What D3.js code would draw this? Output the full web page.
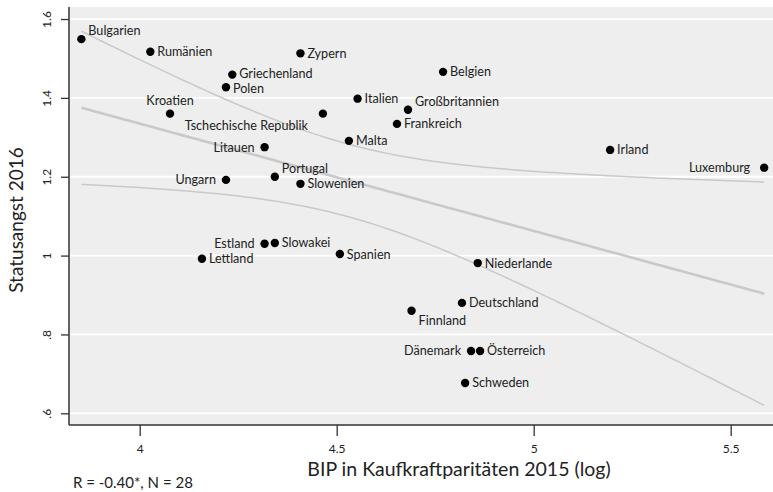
<!DOCTYPE html>
<html>
<head>
<meta charset="utf-8">
<script src="https://cdn.jsdelivr.net/npm/d3@7"></script>
<style>
  body { margin: 0; background: #fff; }
  text { font-family: Lato, "Open Sans", sans-serif; fill: #222; }
</style>
</head>
<body>
<div id="wrapper"></div>
<script>
// data: log GDP (PPP 2015) vs status anxiety 2016
const countries = ["Bulgarien", "Rumänien", "Zypern", "Griechenland", "Polen", "Kroatien",
  "Tschechische Republik", "Italien", "Großbritannien", "Frankreich", "Malta", "Belgien",
  "Litauen", "Portugal", "Ungarn", "Slowenien", "Irland", "Luxemburg", "Estland", "Slowakei",
  "Lettland", "Spanien", "Niederlande", "Deutschland", "Finnland", "Dänemark", "Österreich", "Schweden"]
const gdpLog = [3.852, 4.027, 4.408, 4.235, 4.219, 4.077,
  4.465, 4.553, 4.681, 4.653, 4.531, 4.770,
  4.317, 4.343, 4.219, 4.408, 5.194, 5.585, 4.317, 4.343,
  4.158, 4.508, 4.858, 4.818, 4.690, 4.841, 4.864, 4.826]
const statusAnxiety = [1.549, 1.517, 1.513, 1.459, 1.427, 1.360,
  1.360, 1.398, 1.370, 1.334, 1.291, 1.466,
  1.275, 1.200, 1.192, 1.182, 1.268, 1.223, 1.030, 1.032,
  0.992, 1.004, 0.981, 0.880, 0.860, 0.758, 0.758, 0.677]
const xTicks = [4, 4.5, 5, 5.5]
const yTicks = [0.6, 0.8, 1, 1.2, 1.4, 1.6]
const note = "R = -0.40*, N = 28"

// label placement (default: right of the point)
const labelPos = {
  "Kroatien": "t", "Tschechische Republik": "bl", "Großbritannien": "ur",
  "Portugal": "ur", "Bulgarien": "ur", "Finnland": "br",
  "Litauen": "l", "Ungarn": "l", "Luxemburg": "l", "Estland": "l", "Dänemark": "l"
}
// small nudges so close labels do not collide
const nudge = { "Luxemburg": [-4, 0], "Griechenland": [0, -1.5], "Polen": [0, 0.8] }

const dataset = countries.map((name, i) => ({ name, x: gdpLog[i], y: statusAnxiety[i] }))
const xAccessor = d => d.x
const yAccessor = d => d.y

// dimensions
const dimensions = {
  width: 773,
  height: 492,
  margin: { top: 7, right: 0, bottom: 67, left: 69 }
}
dimensions.boundedWidth = dimensions.width - dimensions.margin.left - dimensions.margin.right
dimensions.boundedHeight = dimensions.height - dimensions.margin.top - dimensions.margin.bottom

const wrapper = d3.select("#wrapper")
  .append("svg")
    .attr("width", dimensions.width)
    .attr("height", dimensions.height)

const bounds = wrapper.append("g")
  .attr("transform", `translate(${dimensions.margin.left},${dimensions.margin.top})`)

// scales
const xScale = d3.scaleLinear()
  .domain([3.8206, 5.6074])
  .range([0, dimensions.boundedWidth])
const yScale = d3.scaleLinear()
  .domain([0.5703, 1.6305])
  .range([dimensions.boundedHeight, 0])

// background + grid
bounds.append("rect")
  .attr("width", dimensions.boundedWidth)
  .attr("height", dimensions.boundedHeight)
  .attr("fill", "#eeeeee")

bounds.append("g")
  .selectAll("line")
  .data(yTicks)
  .enter().append("line")
    .attr("x1", 0)
    .attr("x2", dimensions.boundedWidth)
    .attr("y1", d => yScale(d))
    .attr("y2", d => yScale(d))
    .attr("stroke", "#fff")
    .attr("stroke-width", 1.8)

// linear fit with 95% CI
const n = dataset.length
const mx = d3.mean(dataset, xAccessor)
const my = d3.mean(dataset, yAccessor)
const sxx = d3.sum(dataset, d => (d.x - mx) ** 2)
const sxy = d3.sum(dataset, d => (d.x - mx) * (d.y - my))
const slope = sxy / sxx
const intercept = my - slope * mx
const s = Math.sqrt(d3.sum(dataset, d => (d.y - intercept - slope * d.x) ** 2) / (n - 2))
const tCrit = 2.0555
const [xMin, xMax] = d3.extent(dataset, xAccessor)
const fitPoints = d3.range(0, 101).map(i => {
  const x = xMin + (xMax - xMin) * i / 100
  const yhat = intercept + slope * x
  const se = s * Math.sqrt(1 / n + (x - mx) ** 2 / sxx)
  return { x, yhat, lo: yhat - tCrit * se, hi: yhat + tCrit * se }
})

const lineGen = key => d3.line()
  .x(d => xScale(d.x))
  .y(d => yScale(d[key]))

bounds.append("path")
  .datum(fitPoints)
  .attr("d", lineGen("hi"))
  .attr("fill", "none").attr("stroke", "#c9c9c9").attr("stroke-width", 1.5)
bounds.append("path")
  .datum(fitPoints)
  .attr("d", lineGen("lo"))
  .attr("fill", "none").attr("stroke", "#c9c9c9").attr("stroke-width", 1.5)
bounds.append("path")
  .datum(fitPoints)
  .attr("d", lineGen("yhat"))
  .attr("fill", "none").attr("stroke", "#c9c9c9").attr("stroke-width", 2.6)

// points
bounds.append("g")
  .selectAll("circle")
  .data(dataset)
  .enter().append("circle")
    .attr("cx", d => xScale(xAccessor(d)))
    .attr("cy", d => yScale(yAccessor(d)))
    .attr("r", 4.2)
    .attr("fill", "#000")

// labels
const offsets = {
  r: { dx: 7, dy: 4.5, anchor: "start" },
  l: { dx: -10, dy: 4.5, anchor: "end" },
  ur: { dx: 7, dy: -4, anchor: "start" },
  br: { dx: 7, dy: 14, anchor: "start" },
  bl: { dx: -15, dy: 16, anchor: "end" },
  t: { dx: 0, dy: -9, anchor: "middle" }
}
const off = d => offsets[labelPos[d.name] || "r"]
const ndg = d => nudge[d.name] || [0, 0]
bounds.append("g")
  .selectAll("text")
  .data(dataset)
  .enter().append("text")
    .attr("x", d => xScale(d.x) + off(d).dx + ndg(d)[0])
    .attr("y", d => yScale(d.y) + off(d).dy + ndg(d)[1])
    .attr("text-anchor", d => off(d).anchor)
    .style("font-size", "12.6px")
    .text(d => d.name)

// axes
const yAxis = bounds.append("g")
  .call(d3.axisLeft(yScale)
    .tickValues(yTicks)
    .tickSize(8)
    .tickFormat(d => d < 1 ? String(d).replace(/^0/, "") : String(d)))
yAxis.select(".domain").remove()
yAxis.selectAll("line").attr("stroke", "#333").attr("stroke-width", 1.3)
yAxis.selectAll("text")
  .attr("x", null).attr("dy", null)
  .attr("text-anchor", "middle")
  .attr("transform", "translate(-18,0) rotate(-90)")
  .style("font-size", "12px")
  .style("font-family", "Lato, sans-serif")
  .attr("fill", "#222")

const xAxis = bounds.append("g")
  .attr("transform", `translate(0,${dimensions.boundedHeight})`)
  .call(d3.axisBottom(xScale)
    .tickValues(xTicks)
    .tickSize(11)
    .tickFormat(d3.format("")))
xAxis.select(".domain").remove()
xAxis.selectAll("line").attr("stroke", "#333").attr("stroke-width", 1.3)
xAxis.selectAll("text")
  .attr("y", 19)
  .style("font-size", "12px")
  .style("font-family", "Lato, sans-serif")
  .attr("fill", "#222")

// axis lines
bounds.append("line")
  .attr("x1", 0).attr("x2", 0)
  .attr("y1", 0).attr("y2", dimensions.boundedHeight)
  .attr("stroke", "#333").attr("stroke-width", 1.5)
bounds.append("line")
  .attr("x1", 0).attr("x2", dimensions.boundedWidth)
  .attr("y1", dimensions.boundedHeight).attr("y2", dimensions.boundedHeight)
  .attr("stroke", "#333").attr("stroke-width", 1.5)

// titles
wrapper.append("text")
  .attr("transform", "translate(23,220) rotate(-90)")
  .attr("text-anchor", "middle")
  .style("font-size", "19px")
  .text("Statusangst 2016")

wrapper.append("text")
  .attr("x", 459)
  .attr("y", 476)
  .attr("text-anchor", "middle")
  .style("font-size", "19.5px")
  .text("BIP in Kaufkraftparitäten 2015 (log)")

wrapper.append("text")
  .attr("x", 73)
  .attr("y", 488)
  .style("font-size", "15px")
  .text(note)
</script>
</body>
</html>
